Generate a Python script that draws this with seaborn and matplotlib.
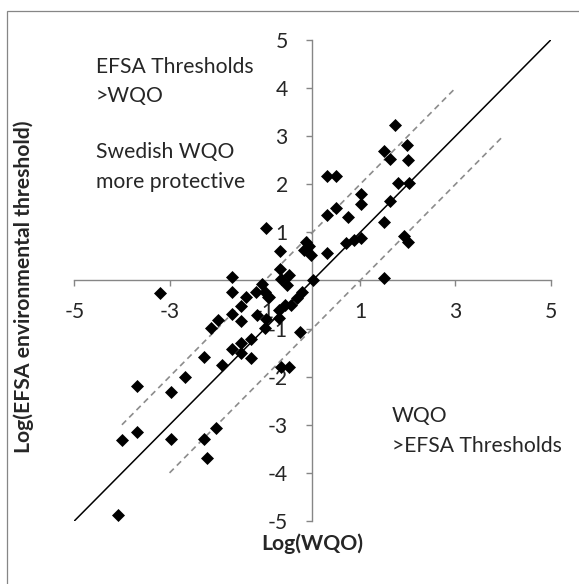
import matplotlib
matplotlib.use("Agg")
import matplotlib.pyplot as plt
from matplotlib.patches import Rectangle
import seaborn as sns
import pandas as pd

# Log-transformed Swedish water quality objectives (WQO) vs EFSA environmental thresholds
log_wqo = [
    1.73, 1.50, 1.98, 1.62, 2.01, 0.31, 0.50, 1.80, 2.02, 1.01,
    1.01, 1.62, 0.31, 0.50, 0.74, 1.50, 0.71, 0.87, 1.01, 1.93,
    2.01, 0.31, -0.14, -0.07, -0.18, -0.04, 0.02, 1.50, -0.21, -0.32,
    -0.46, -0.58, -0.70, -0.70, -0.97, -0.68, -0.69, -0.49, -1.68, -0.67,
    -0.53, -1.68, -1.07, -1.00, -0.93, -1.19, -1.39, -0.91, -1.51, -3.20,
    -1.68, -1.51, -2.14, -1.98, -1.16, -1.00, -0.98, -0.27, -2.28, -1.89,
    -1.68, -1.51, -1.51, -1.29, -1.29, -0.67, -0.50, -3.68, -2.98, -2.68,
    -3.99, -3.68, -2.98, -2.28, -2.03, -2.21, -4.08,
]
log_efsa = [
    3.24, 2.70, 2.81, 2.52, 2.51, 2.18, 2.18, 2.03, 2.03, 1.80,
    1.60, 1.65, 1.37, 1.51, 1.31, 1.21, 0.78, 0.85, 0.89, 0.92,
    0.79, 0.57, 0.79, 0.71, 0.63, 0.53, 0.00, 0.06, -0.23, -0.37,
    -0.50, -0.50, -0.61, -0.77, 1.09, 0.62, 0.24, 0.12, 0.08, 0.04,
    -0.09, -0.24, -0.08, -0.24, -0.35, -0.24, -0.35, -0.35, -0.54, -0.26,
    -0.70, -0.85, -0.99, -0.82, -0.71, -0.98, -0.81, -1.07, -1.59, -1.75,
    -1.43, -1.29, -1.51, -1.21, -1.62, -1.79, -1.80, -2.19, -2.32, -2.00,
    -3.31, -3.15, -3.29, -3.29, -3.06, -3.69, -4.88,
]

# 1:1 line and +/- one log unit bands
line_1to1_x = [-5, 5]
line_1to1_y = [-5, 5]
band_upper_x = [-4, 3]
band_upper_y = [-3, 4]
band_lower_x = [-3, 4]
band_lower_y = [-4, 3]

x_ticks = [-5, -3, -1, 1, 3, 5]
y_ticks = [-5, -4, -3, -2, -1, 1, 2, 3, 4, 5]

x_label = "Log(WQO)"
y_label = "Log(EFSA environmental threshold)"
upper_note = ["EFSA Thresholds", ">WQO", "Swedish WQO", "more protective"]
lower_note = ["WQO", ">EFSA Thresholds"]

sns.set_style("white")
plt.rcParams["font.family"] = ["Lato", "DejaVu Sans"]
FS = 15.2
AXIS_GREY = "#868686"

df = pd.DataFrame({"wqo": log_wqo, "efsa": log_efsa})

fig = plt.figure(figsize=(5.79, 5.84), dpi=100)
ax = fig.add_axes([0.1283, 0.1079, 0.8228, 0.8236])

# chart-area frame
fig.patches.append(Rectangle((7 / 579, -0.2), 1.5, 1.2 - 10.7 / 584,
                             transform=fig.transFigure, fill=False,
                             edgecolor=AXIS_GREY, linewidth=0.9, zorder=0))

ax.plot(line_1to1_x, line_1to1_y, color="black", linewidth=1.1, zorder=2)
ax.plot(band_upper_x, band_upper_y, color="#8c8c8c", linewidth=1.2,
        linestyle=(0, (3.6, 2.6)), zorder=2)
ax.plot(band_lower_x, band_lower_y, color="#8c8c8c", linewidth=1.2,
        linestyle=(0, (3.6, 2.6)), zorder=2)

sns.scatterplot(data=df, x="wqo", y="efsa", marker="D", color="black",
                s=44, linewidth=0, ax=ax, zorder=3, clip_on=False)

ax.set_xlim(-5, 5)
ax.set_ylim(-5, 5)
ax.spines["left"].set_position(("data", 0))
ax.spines["bottom"].set_position(("data", 0))
for side in ("top", "right"):
    ax.spines[side].set_visible(False)
for side in ("left", "bottom"):
    ax.spines[side].set_color(AXIS_GREY)
    ax.spines[side].set_linewidth(1.0)

ax.set_xticks(x_ticks)
ax.set_xticklabels([str(t) for t in x_ticks])
ax.set_yticks(y_ticks)
ax.set_yticklabels([str(t) for t in y_ticks])
ax.tick_params(axis="x", direction="out", length=4.3, width=1.0,
               color=AXIS_GREY, labelsize=FS, pad=11.5, bottom=True)
ax.tick_params(axis="y", direction="out", length=4.3, width=1.0,
               color=AXIS_GREY, labelsize=FS, pad=13.5, left=True)

ax.set_xlabel(x_label, fontsize=FS, fontweight="bold")
ax.set_ylabel(y_label, fontsize=FS, fontweight="bold")
ax.xaxis.set_label_coords(0.5, -0.026)
ax.yaxis.set_label_coords(-0.085, 0.486)

for txt, yy in zip(upper_note, [4.31, 3.72, 2.55, 1.92]):
    ax.text(-4.55, yy, txt, fontsize=FS, ha="left", va="baseline")
for txt, yy in zip(lower_note, [-2.94, -3.56]):
    ax.text(1.66, yy, txt, fontsize=FS, ha="left", va="baseline")

fig.savefig("out.png", dpi=100)
